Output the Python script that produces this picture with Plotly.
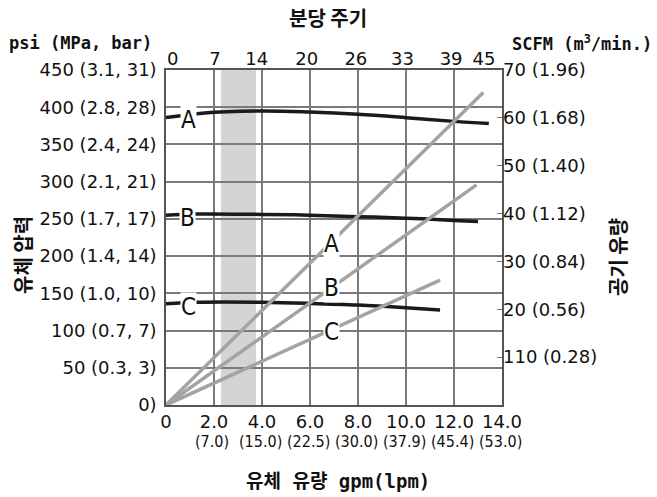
import plotly.graph_objects as go

# ---------------- data ----------------
# fluid pressure curves (psi) vs fluid flow (gpm)
gpm_A = [0, 1.5, 4, 6, 8, 10, 12, 13.45]
psi_A = [386, 392, 395, 393.5, 390.5, 386, 381, 378]
gpm_B = [0, 1.2, 4, 6, 8, 10, 12, 13.0]
psi_B = [255, 256.5, 256, 255, 253, 251, 248, 246.5]
gpm_C = [0, 1.3, 4, 6, 8, 10, 11.42]
psi_C = [136, 138, 138, 136.5, 134.3, 130.7, 127.6]

# air consumption lines (SCFM) vs fluid flow (gpm)
air_gpm_A = [0, 13.22]
air_scfm_A = [0, 65.3]
air_gpm_B = [0, 12.94]
air_scfm_B = [0, 46.0]
air_gpm_C = [0, 11.42]
air_scfm_C = [0, 26.1]

# recommended band (gpm)
band_gpm = [2.29, 3.75]

# axes ticks
x_ticks = [0, 2, 4, 6, 8, 10, 12, 14]
x_ticktext = ["0", "2.0", "4.0", "6.0", "8.0", "10.0", "12.0", "14.0"]
lpm_text = ["(7.0)", "(15.0)", "(22.5)", "(30.0)", "(37.9)", "(45.4)", "(53.0)"]
lpm_pos = [2, 4, 6, 8, 10, 12, 14]
cycles_text = ["0", "7", "14", "20", "26", "33", "39", "45"]
cycles_pos = [0.28, 2.04, 3.78, 5.86, 7.91, 9.85, 11.88, 13.25]
psi_ticks = [0, 50, 100, 150, 200, 250, 300, 350, 400, 450]
psi_ticktext = ["0)", "50 (0.3, 3)", "100 (0.7, 7)", "150 (1.0, 10)", "200 (1.4, 14)",
                "250 (1.7, 17)", "300 (2.1, 21)", "350 (2.4, 24)", "400 (2.8, 28)",
                "450 (3.1, 31)"]
scfm_ticks = [10, 20, 30, 40, 50, 60, 70]
scfm_ticktext = ["110 (0.28)", "20 (0.56)", "30 (0.84)", "40 (1.12)", "50 (1.40)",
                 "60 (1.68)", "70 (1.96)"]

# ---------------- layout helpers ----------------
W, H = 657, 497
L, R, T, B = 166, 502, 70, 405


def px(x):
    return (x - L) / (R - L)


def py(y):
    return (B - y) / (B - T)


BLACK = "#1a1a1a"
GRAY = "#a3a3a3"
GRID = "#7a7a7a"
TICKFONT = dict(family="DejaVu Sans", size=18, color="#111")
TITLEFONT = dict(family="DejaVu Sans Mono, Noto Sans CJK KR", size=17, color="#111", weight=700)
KFONT = dict(family="Noto Sans CJK KR", size=20, color="#111", weight=700)
LETTER = dict(family="DejaVu Sans Condensed, DejaVu Sans", size=24, color="#111")

fig = go.Figure()

for gx, gy in [(gpm_A, psi_A), (gpm_B, psi_B), (gpm_C, psi_C)]:
    fig.add_trace(go.Scatter(x=gx, y=gy, mode="lines", line=dict(color=BLACK, width=3.5, shape="spline"),
                             showlegend=False, hoverinfo="skip"))
for gx, gy in [(air_gpm_A, air_scfm_A), (air_gpm_B, air_scfm_B), (air_gpm_C, air_scfm_C)]:
    fig.add_trace(go.Scatter(x=gx, y=gy, yaxis="y2", mode="lines", line=dict(color=GRAY, width=3.5),
                             showlegend=False, hoverinfo="skip"))
# invisible trace for top axis
fig.add_trace(go.Scatter(x=[0, 14], y=[0, 0], xaxis="x2", mode="lines", line=dict(width=0),
                         showlegend=False, hoverinfo="skip", opacity=0))

fig.add_shape(type="rect", xref="x", yref="paper", x0=band_gpm[0], x1=band_gpm[1], y0=0, y1=1,
              fillcolor="#d4d4d6", line=dict(width=0), layer="between")

# curve letters
letters = [
    ("A", 0.92, 382.8, "y"), ("B", 0.88, 251, "y"), ("C", 0.92, 131.6, "y"),
    ("A", 6.875, 216, "y"), ("B", 6.9, 157, "y"), ("C", 6.875, 98, "y"),
]
for t, x, y, yr in letters:
    fig.add_annotation(x=x, y=y, xref="x", yref=yr, text=t, showarrow=False, font=LETTER,
                       bgcolor="white", borderpad=0, xanchor="center", yanchor="middle")

# lpm second row
for t, x in zip(lpm_text, lpm_pos):
    fig.add_annotation(x=x - 0.08, y=py(441), xref="x", yref="paper", text=t, showarrow=False,
                       font=dict(family="DejaVu Sans Condensed, DejaVu Sans", size=16, color="#111"),
                       xanchor="center", yanchor="middle")

# titles
fig.add_annotation(x=px(328), y=py(17), xref="paper", yref="paper", text="분당 주기", showarrow=False,
                   font=KFONT, xanchor="center", yanchor="middle")
fig.add_annotation(x=px(338), y=py(481), xref="paper", yref="paper", text="유체 유량 gpm(lpm)",
                   showarrow=False, font=dict(family="DejaVu Sans Mono, Noto Sans CJK KR", size=19,
                                               color="#111", weight=700),
                   xanchor="center", yanchor="middle")
fig.add_annotation(x=px(80), y=py(43), xref="paper", yref="paper", text="psi (MPa, bar)",
                   showarrow=False, font=TITLEFONT, xanchor="center", yanchor="middle")
fig.add_annotation(x=px(582), y=py(43), xref="paper", yref="paper", text="SCFM (m<sup>3</sup>/min.)",
                   showarrow=False, font=TITLEFONT, xanchor="center", yanchor="middle")
fig.add_annotation(x=px(22), y=py(255), xref="paper", yref="paper", text="유체 압력", showarrow=False,
                   font=KFONT, textangle=-90, xanchor="center", yanchor="middle")
fig.add_annotation(x=px(617), y=py(257), xref="paper", yref="paper", text="공기 유량", showarrow=False,
                   font=KFONT, textangle=-90, xanchor="center", yanchor="middle")

fig.update_layout(
    width=W, height=H, autosize=False,
    margin=dict(l=L, r=W - R, t=T, b=H - B, pad=0),
    paper_bgcolor="white", plot_bgcolor="white",
    showlegend=False,
    xaxis=dict(range=[0, 14], tickvals=x_ticks, ticktext=x_ticktext, tickfont=TICKFONT,
               showgrid=True, gridcolor=GRID, gridwidth=1.5, zeroline=False,
               showline=True, linecolor="#555", linewidth=1.5, mirror=True, ticks=""),
    xaxis2=dict(range=[0, 14], overlaying="x", side="top", tickvals=cycles_pos, ticktext=cycles_text,
                tickfont=dict(family="DejaVu Sans", size=18, color="#111"), showgrid=False,
                zeroline=False, ticks="", showline=False),
    yaxis=dict(range=[0, 450], tickvals=psi_ticks, ticktext=psi_ticktext, tickfont=TICKFONT,
               showgrid=True, gridcolor=GRID, gridwidth=1.5, zeroline=False,
               showline=True, linecolor="#555", linewidth=1.5, mirror=True,
               ticks="inside", ticklen=4, tickcolor=GRID, ticklabelstandoff=4),
    yaxis2=dict(range=[0, 70], overlaying="y", side="right", tickvals=scfm_ticks, ticktext=scfm_ticktext,
                tickfont=TICKFONT, showgrid=False, zeroline=False, showline=False,
                ticks="inside", ticklen=5, tickcolor=GRID),
)

fig.write_html("out.html", post_script="document.body.style.margin='0';",
               config={"displayModeBar": False})
